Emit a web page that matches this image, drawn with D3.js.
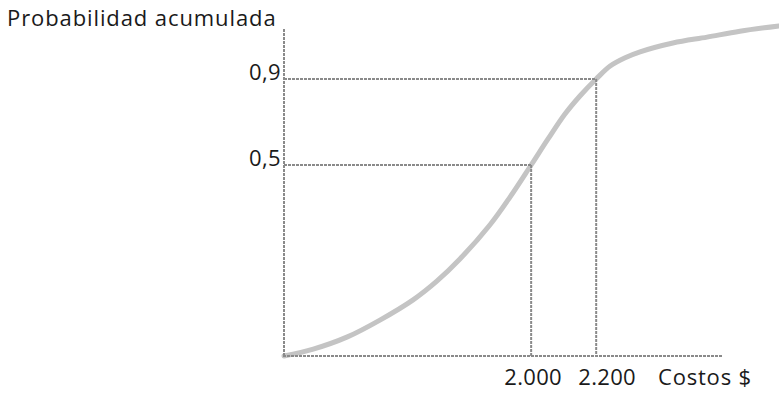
<!DOCTYPE html>
<html><head><meta charset="utf-8">
<script src="https://cdn.jsdelivr.net/npm/d3@7"></script>
<style>
html,body{margin:0;padding:0;background:#fff;}
svg{display:block;}
text{font-family:"Open Sans","Noto Sans",sans-serif;fill:#1a1a1a;}
</style></head>
<body>
<svg id="chart" width="779" height="393"></svg>
<script>
// Data
const costs = [1240, 1330, 1435, 1535, 1637, 1710, 1781, 1873, 1935, 2000, 2052, 2104, 2150, 2200, 2243, 2289, 2335, 2436, 2541, 2642, 2762];
const probs = [0, 0.018, 0.05, 0.094, 0.147, 0.196, 0.254, 0.343, 0.416, 0.5, 0.621, 0.737, 0.821, 0.9, 0.922, 0.936, 0.946, 0.961, 0.971, 0.981, 0.99];
const markCosts = [2000, 2200];
const markProbs = [0.5, 0.9];
const xTickLabels = ["2.000", "2.200"];
const yTickLabels = ["0,5", "0,9"];
const yTitle = "Probabilidad acumulada";
const xTitle = "Costos $";

const svg = d3.select("#chart");
const mLeft = 284, mRight = 723, mTop = 29, mBottom = 356;

const x = d3.scaleLinear().domain([1240, 2590]).range([mLeft, mRight]);
const y = d3.scaleLinear().domain([0, 0.5, 0.9, 1]).range([mBottom, 165, 79, 20]);

const guide = {stroke: "#8a8a8a", width: 2, dash: "3,1"};

// Curve
const line = d3.line().x((d,i)=>x(costs[i])).y((d,i)=>y(probs[i])).curve(d3.curveCatmullRom.alpha(0.5));
svg.append("path").datum(costs).attr("d", line)
  .attr("fill","none").attr("stroke","#c4c4c4").attr("stroke-width",5).attr("stroke-linecap","round");

// Guide lines
markCosts.forEach((c,i)=>{
  const p = markProbs[i];
  svg.append("line").attr("x1", x.range()[0]).attr("x2", x(c)).attr("y1", y(p)).attr("y2", y(p))
    .attr("stroke", guide.stroke).attr("stroke-width", 2).attr("stroke-dasharray", guide.dash);
  svg.append("line").attr("x1", x(c)).attr("x2", x(c)).attr("y1", y(p)).attr("y2", y(0))
    .attr("stroke", guide.stroke).attr("stroke-width", 2).attr("stroke-dasharray", guide.dash);
});

// Axes
svg.append("line").attr("x1", mLeft).attr("x2", mLeft).attr("y1", mTop).attr("y2", mBottom)
  .attr("stroke", guide.stroke).attr("stroke-width", guide.width).attr("stroke-dasharray", guide.dash);
svg.append("line").attr("x1", mLeft-1).attr("x2", mRight).attr("y1", mBottom).attr("y2", mBottom)
  .attr("stroke", guide.stroke).attr("stroke-width", guide.width).attr("stroke-dasharray", guide.dash);

// Tick labels
markProbs.forEach((p,i)=>{
  svg.append("text").attr("x", mLeft-3).attr("y", y(p)+1).attr("text-anchor","end")
    .attr("font-size", 22).attr("letter-spacing", 0.4).text(yTickLabels[i]);
});
const xOff = [2, 11];
markCosts.forEach((c,i)=>{
  svg.append("text").attr("x", x(c)+xOff[i]).attr("y", mBottom+29).attr("text-anchor","middle")
    .attr("font-size", 22).attr("letter-spacing", 0.3).text(xTickLabels[i]);
});
svg.append("text").attr("x", 658).attr("y", mBottom+29)
  .attr("font-size", 22).attr("letter-spacing", 0.8).text(xTitle);
svg.append("text").attr("x", 7).attr("y", 26).attr("font-size", 22).attr("letter-spacing", 0.9).text(yTitle);
</script>
</body></html>
